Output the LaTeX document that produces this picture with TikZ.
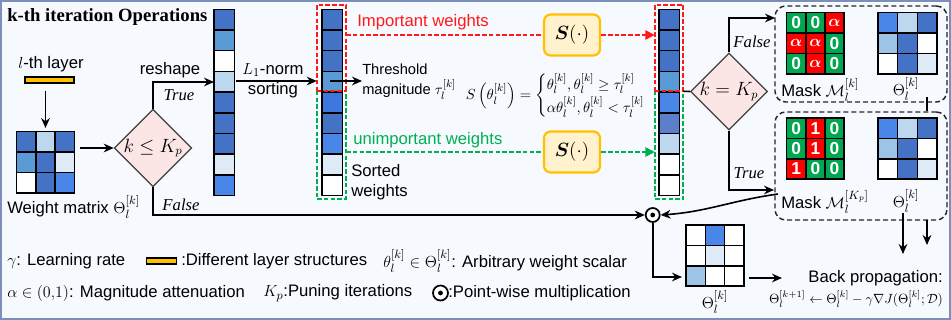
\documentclass[tikz,border=0pt]{standalone}
\usepackage{amsmath,amssymb,bm}
\usepackage[no-math]{fontspec}
\setmainfont{Liberation Sans}
\newfontfamily\serifam{Liberation Serif}
\usetikzlibrary{shapes.geometric,arrows.meta,calc}

\definecolor{bgc}{HTML}{F6F9FE}
\definecolor{bdc}{HTML}{7A90B8}
\definecolor{cb}{HTML}{4472C4}
\definecolor{cmid}{HTML}{5B9BD5}
\definecolor{cbr}{HTML}{4A86E8}
\definecolor{cx}{HTML}{3F78DC}
\definecolor{cl}{HTML}{BDD7EE}
\definecolor{cv}{HTML}{DEEBF7}
\definecolor{cq}{HTML}{9DC3E6}
\definecolor{cs}{HTML}{5B7FCB}
\definecolor{mg}{HTML}{00A650}
\definecolor{mr}{HTML}{FF0000}
\definecolor{ired}{HTML}{FF1A1A}
\definecolor{igreen}{HTML}{00B050}
\definecolor{sfill}{HTML}{FFF2CC}
\definecolor{sdraw}{HTML}{FFC000}
\definecolor{diamf}{HTML}{FBE5E5}
\definecolor{orng}{HTML}{FFC000}

\newcommand{\px}{0.75pt}
\newcommand{\wcol}[4]{%
  \foreach \cc [count=\ii from 0] in {#4}{%
    \draw[cell, fill=\cc] (#1,#2+\ii*#3) rectangle ++(20.5,#3);}}
\newcommand{\wmat}[5]{%
  \foreach \cc [count=\ii from 0] in {#5}{%
    \pgfmathtruncatemacro{\rr}{\ii/3}%
    \pgfmathtruncatemacro{\qq}{\ii-3*\rr}%
    \draw[cell, fill=\cc] (#1+\qq*#3,#2+\rr*#4) rectangle ++(#3,#4);}}
\newcommand{\wmask}[6]{%
  \foreach \cc/\tx [count=\ii from 0] in {#5}{%
    \pgfmathtruncatemacro{\rr}{\ii/3}%
    \pgfmathtruncatemacro{\qq}{\ii-3*\rr}%
    \draw[cell, fill=\cc] (#1+\qq*#3,#2+\rr*#4) rectangle ++(#3,#4);
    \node[masktxt] (#6-\ii) at (#1+\qq*#3+#3/2,#2+\rr*#4+#4/2) {\tx};}}

\tikzset{
  cell/.style={draw=black, line width=1.1pt},
  txt/.style={font=\fontsize{12.5}{15}\selectfont, inner sep=0pt},
  ital/.style={font=\fontsize{12.5}{15}\selectfont\serifam\itshape, inner sep=0pt},
  arr/.style={-{Stealth[length=7.5pt,width=6.5pt]}, line width=1.2pt},
  conn/.style={line width=1.2pt},
  rdash/.style={draw=ired, line width=1.2pt, dash pattern=on 3.5pt off 1.6pt},
  gdash/.style={draw=igreen, line width=1.2pt, dash pattern=on 3.5pt off 1.6pt},
  bdash/.style={draw=black!85, line width=1.1pt, dash pattern=on 3.8pt off 2.2pt, rounded corners=8pt},
  diam/.style={diamond, draw=black!75, fill=diamf, line width=0.9pt, inner sep=0pt, font=\fontsize{13.5}{15}\selectfont},
  sbox/.style={draw=sdraw, fill=sfill, line width=1.6pt, rounded corners=5pt, inner sep=0pt,
    minimum width=56*\px, minimum height=41*\px, font=\fontsize{15}{18}\selectfont},
  odotst/.style={circle, draw=black, line width=1.3pt, fill=white, inner sep=0pt, minimum size=14*\px},
  masktxt/.style={text=white, font=\fontsize{13}{14}\selectfont\bfseries, inner sep=0pt},
  holder/.style={inner sep=0pt, draw=none},
}

\begin{document}
\begin{tikzpicture}[x=0.75pt,y=-0.75pt]
\useasboundingbox (0,0) rectangle (951,320);
\draw[draw=bdc, fill=bgc, line width=1.1pt] (1,1) rectangle (950,319);

% title
\node[anchor=west, inner sep=0pt, font=\fontsize{14}{16}\selectfont\serifam\bfseries] (title) at (7,17) {k-th iteration Operations};

% layer
\node[txt] (ltxt) at (51,64) {$l$-th layer};
\node[draw=black, fill=orng, line width=0.9pt, minimum width=49*\px, minimum height=6*\px, inner sep=0pt] (lbar) at (49.5,80) {};

% weight matrix
\node[holder, minimum width=57.6*\px, minimum height=61.3*\px] (W) at (45.5,162.3) {};
\wmat{16.7}{131.7}{19.2}{20.43}{cb,cl,cb,cmid,cb,cv,white,cb,cbr}
\node[txt, anchor=west] (Wl) at (7,207) {Weight matrix $\Theta_l^{[k]}$};
\coordinate (lbarout) at (45.5,91);
\draw[arr, shorten >=2.5pt] (lbarout) -- (W.north);

% diamond 1
\node[diam, minimum width=75.7*\px, minimum height=72.6*\px] (d1) at (153,148) {$k \le K_p$};
\draw[arr, shorten <=4pt] (W.east |- d1) -- (d1.west);

% column 1
\node[holder, minimum width=20.5*\px, minimum height=186.3*\px] (c1) at (224.25,102.45) {};
\wcol{214}{9.3}{20.7}{cb,cmid,white,cl,cb,cb,cb,cv,cbr}
\coordinate (c1in) at (214,82);
\draw[arr] (d1.north) |- (c1in);
\node[txt] (resh) at (170,70) {reshape};
\node[ital] (t1) at (179,95) {True};

% column 2
\wcol{322}{9.3}{20.7}{cb,cb,cb,cmid,cx,cb,cbr,cv,white}
\node[holder, minimum width=28.7*\px, minimum height=86*\px] (rb2) at (331.35,48) {};
\node[holder, minimum width=28.7*\px, minimum height=108*\px] (gb2) at (331.35,145) {};
\draw[rdash] (rb2.south west) -- (rb2.north west) -- (rb2.north east) -- (rb2.south east);
\draw[gdash] (gb2.north west) -- (gb2.south west) -- (gb2.south east) -- (gb2.north east);
\draw[rdash] (rb2.south west) -- (rb2.south east);
\coordinate (c1out) at (236,81);
\draw[arr] (c1out) -- (c1out -| rb2.west);
\node[txt] (l1n) at (273,70) {$L_1$-norm};
\node[txt] (srt) at (273,90) {sorting};

% threshold
\node[anchor=west, align=left, inner sep=0pt, font=\fontsize{11}{15}\selectfont] (thr) at (362,82) {Threshold\\magnitude $\tau_l^{[k]}$};
\coordinate (thA) at (330,81);
\draw[arr] (thA) -- (thr.west |- thA);

% formula
\node[inner sep=0pt, font=\fontsize{10.8}{13}\selectfont] (form) at (563,96)
 {$S\left(\theta_l^{[k]}\right)=\begin{cases}\theta_l^{[k]},\theta_l^{[k]}\ge\tau_l^{[k]}\\[1pt] \alpha\theta_l^{[k]},\theta_l^{[k]}<\tau_l^{[k]}\end{cases}$};

% important / unimportant
\node[txt, text=ired, anchor=west] (imp) at (357,22) {Important weights};
\node[txt, text=igreen, anchor=west] (unimp) at (353,140) {unimportant weights};
\node[sbox] (S1) at (572,35) {$\bm{S}(\cdot)$};
\node[sbox] (S2) at (572,152) {$\bm{S}(\cdot)$};

\node[txt, anchor=west, align=left, font=\fontsize{12.5}{15}\selectfont] (sw) at (351,182) {Sorted\\weights};

% column 3
\wcol{659}{9.3}{20.7}{cb,cb,cb,cmid,cbr,cs,cl,white,white}
\node[holder, minimum width=28*\px, minimum height=86*\px] (rb3) at (669,48) {};
\node[holder, minimum width=28*\px, minimum height=108*\px] (gb3) at (669,145) {};
\draw[rdash] (rb3.south west) -- (rb3.north west) -- (rb3.north east) -- (rb3.south east);
\draw[gdash] (gb3.north west) -- (gb3.south west) -- (gb3.south east) -- (gb3.north east);
\draw[rdash] (rb3.south west) -- (rb3.south east);

\draw[rdash] (rb2.east |- S1) -- (S1.west);
\draw[rdash, -{Triangle[length=7pt,width=7pt]}] (S1.east) -- (rb3.west |- S1);
\draw[gdash] (gb2.east |- S2) -- (S2.west);
\draw[gdash, -{Triangle[length=7pt,width=7pt]}] (S2.east) -- (gb3.west |- S2);

% diamond 2
\node[diam, minimum width=74*\px, minimum height=73*\px] (d2) at (729,91.5) {$k = K_p$};
\draw[conn] (rb3.south east) -- (d2.west);

% dashed boxes
\node[bdash, draw, minimum width=172*\px, minimum height=96*\px, inner sep=0pt] (tb) at (861,54) {};
\node[bdash, draw, minimum width=172*\px, minimum height=108*\px, inner sep=0pt] (bb) at (861,166) {};
\coordinate (tbin) at (775,18);
\coordinate (bbin) at (774,190);
\draw[arr] (d2.north) |- (tbin);
\draw[arr] (d2.south) |- (bbin);
\node[ital] (f2) at (752,42) {False};
\node[ital] (t2) at (749,173) {True};

% masks
\wmask{786.7}{12.7}{19.1}{20.4}{mg/0,mg/0,mr/$\bm{\alpha}$,mr/$\bm{\alpha}$,mr/$\bm{\alpha}$,mg/0,mg/0,mr/$\bm{\alpha}$,mg/0}{mka}
\wmat{878}{12.7}{19.7}{20.4}{cbr,cl,cb,cq,cb,white,white,cb,cv}
\node[txt, anchor=west] (m1l) at (781,90) {Mask $\mathcal{M}_l^{[k]}$};
\node[txt] (th1l) at (906,89) {$\Theta_l^{[k]}$};
\coordinate (vA) at (927,97);
\draw[conn] (vA) -- (vA |- bb.north);

\wmask{786.7}{118}{19.1}{20.4}{mg/0,mr/1,mg/0,mg/0,mr/1,mg/0,mr/1,mg/0,mg/0}{mkb}
\wmat{878}{118}{19.7}{20.4}{cbr,cl,cb,cq,cb,white,white,cb,cv}
\node[txt, anchor=west] (m2l) at (781,202) {Mask $\mathcal{M}_l^{[K_p]}$};
\node[txt] (th2l) at (906,201) {$\Theta_l^{[k]}$};

% odot
\node[odotst] (od) at (652.7,215) {};
\fill (od) circle (2.4);
\draw[arr] (d1.south) |- (od.west);
\node[ital] (f1) at (181,205) {False};
\coordinate (cvs) at (778,194);
\draw[arr] (cvs) to[out=188,in=4] (od.east);

% matrix 3
\node[holder, minimum width=58*\px, minimum height=61.2*\px] (M3) at (715,255.6) {};
\wmat{686}{225}{19.33}{20.4}{white,cbr,white,white,cv,white,cq,white,white}
\node[txt] (m3l) at (715,302) {$\Theta_l^{[k]}$};
\coordinate (m3in) at (682,277);
\draw[arr] (od.south) |- (m3in);
\coordinate (m3out) at (749,278);
\coordinate (bpin) at (782,278);
\draw[arr] (m3out) -- (bpin);

% back propagation
\node[txt, anchor=east] (bp) at (943,278) {Back propagation:};
\node[inner sep=0pt, font=\fontsize{10}{12}\selectfont] (bpf) at (856,299) {$\Theta_l^{[k+1]}\leftarrow\Theta_l^{[k]}-\gamma\nabla J(\Theta_l^{[k]};\mathcal{D})$};
\coordinate (dA) at (903,213);
\coordinate (dB) at (927,220);
\draw[arr] (dA) -- (903,254);
\draw[arr] (dB) -- (927,245);

% legend
\node[txt, anchor=west] (lg1) at (7,261) {$\gamma$: Learning rate};
\node[draw=black, fill=orng, line width=0.9pt, minimum width=30*\px, minimum height=6*\px, inner sep=0pt] (lgbar) at (161.5,261) {};
\node[txt, anchor=west] (lg2) at (181,261) {:Different layer structures};
\node[txt, anchor=west] (lg3) at (383,261) {$\theta_l^{[k]}\in\Theta_l^{[k]}$: Arbitrary weight scalar};
\node[txt, anchor=west] (lg4) at (7,293) {$\alpha\in(0{,}1)$: Magnitude attenuation};
\node[txt, anchor=west] (lg5) at (263,293) {$K_p$:Puning iterations};
\node[odotst, minimum size=15*\px] (lgod) at (440.5,293) {};
\fill (lgod) circle (2.4);
\node[txt, anchor=west] (lg6) at (448,293) {:Point-wise multiplication};
\end{tikzpicture}
\end{document}
